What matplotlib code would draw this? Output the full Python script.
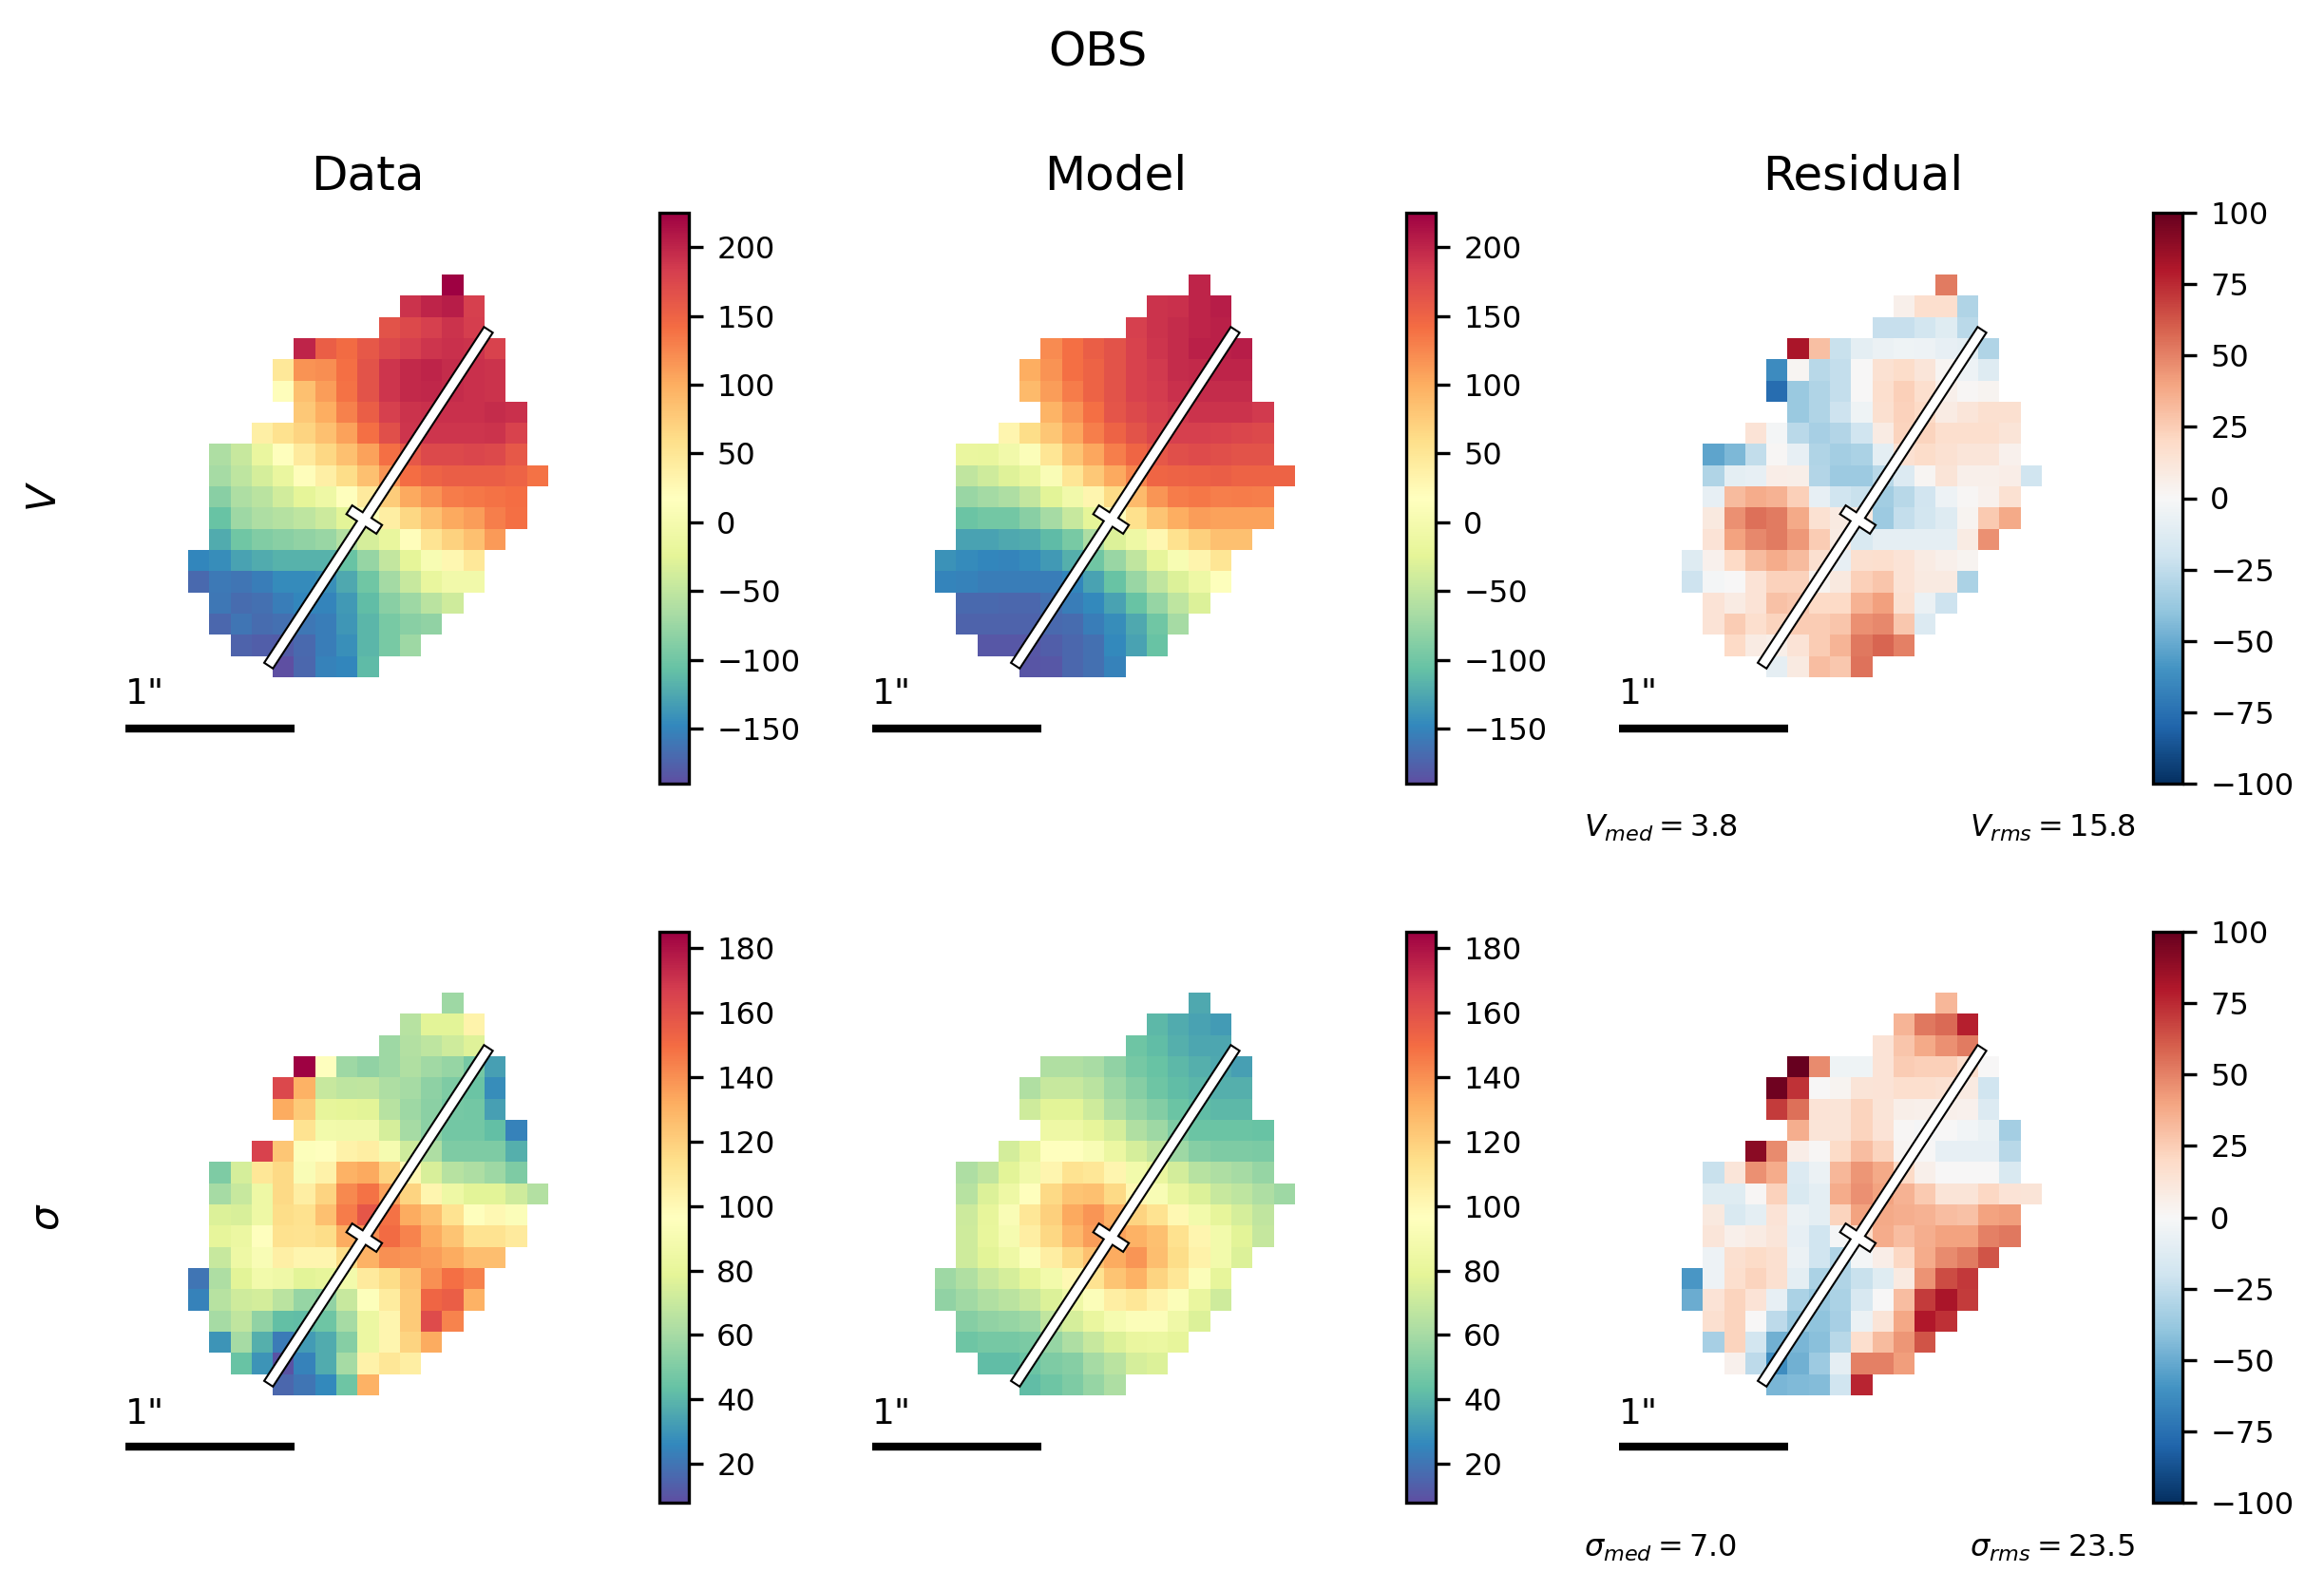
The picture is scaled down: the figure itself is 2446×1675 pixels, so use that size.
import numpy as np
import matplotlib
matplotlib.use("Agg")
import matplotlib.pyplot as plt
from matplotlib.patches import Polygon

### Map values ----------------------------------------------------------------

# first column of each row of the map, the rows hold only the valid spaxels
row_start = [12, 10, 9, 5, 4, 4, 5, 3, 1, 1, 1, 1, 1, 0, 0, 1, 1, 2, 4]

v_data = [
    [226],
    [190, 200, 205, 180],
    [165, 172, 180, 190, 182],
    [200, 155, 143, 160, 172, 180, 188, 192, 190, 178],
    [48, 118, 120, 140, 165, 188, 197, 200, 195, 192, 190],
    [20, 85, 110, 138, 165, 188, 197, 198, 195, 192, 190],
    [78, 100, 128, 155, 180, 190, 192, 192, 192, 195, 192],
    [38, 55, 68, 85, 108, 140, 168, 188, 188, 188, 188, 190, 178],
    [-62, -45, -15, 18, 45, 65, 85, 108, 140, 160, 172, 172, 175, 172, 160],
    [-68, -52, -35, -15, 20, 38, 60, 85, 115, 142, 150, 155, 155, 155, 150, 138],
    [-85, -62, -55, -38, -22, -10, 18, 45, 75, 102, 118, 132, 135, 138, 142],
    [-105, -72, -62, -58, -52, -42, -25, 10, 40, 65, 85, 102, 110, 130, 140],
    [-122, -100, -90, -85, -80, -75, -60, -35, -18, 20, 52, 70, 85, 112],
    [-148, -144, -130, -122, -118, -118, -118, -105, -78, -48, -22, 5, 28, 48],
    [-170, -158, -162, -155, -145, -145, -142, -125, -100, -70, -45, -18, -5, -5],
    [-160, -168, -165, -155, -148, -150, -135, -110, -85, -72, -55, -40],
    [-172, -162, -168, -165, -160, -155, -138, -115, -95, -85, -80],
    [-175, -178, -180, -170, -155, -142, -115, -95, -72],
    [-190, -172, -152, -148, -112],
]

v_model = [
    [200],
    [190, 192, 200, 205],
    [180, 190, 195, 200, 203],
    [122, 140, 155, 165, 178, 188, 195, 203, 203, 205],
    [100, 118, 140, 150, 165, 178, 185, 195, 197, 200, 200],
    [90, 110, 132, 150, 165, 178, 183, 192, 195, 195, 195],
    [95, 118, 140, 162, 172, 180, 185, 190, 190, 190, 185],
    [30, 60, 80, 105, 130, 150, 165, 175, 180, 180, 178, 175, 172],
    [-15, -18, -5, 12, 50, 82, 105, 130, 148, 160, 168, 170, 168, 165, 165],
    [-50, -40, -28, -15, 8, 50, 78, 102, 125, 148, 150, 152, 155, 150, 150, 150],
    [-75, -70, -62, -48, -25, -5, 30, 62, 90, 115, 132, 135, 130, 132, 130],
    [-103, -98, -98, -85, -68, -45, -22, 20, 58, 82, 100, 110, 108, 108, 108],
    [-130, -130, -125, -122, -112, -95, -65, -30, -10, 28, 55, 72, 85, 85],
    [-140, -145, -148, -150, -145, -135, -120, -100, -75, -50, -20, 5, 32, 50],
    [-150, -152, -155, -155, -155, -155, -148, -130, -105, -75, -50, -30, -10, 15],
    [-170, -170, -172, -172, -165, -155, -147, -130, -105, -78, -52, -30],
    [-175, -175, -175, -175, -170, -168, -155, -143, -125, -100, -68],
    [-182, -183, -182, -178, -172, -165, -147, -130, -105],
    [-185, -183, -172, -165, -152],
]

v_resid = [
    [52],
    [5, 17, 17, -30],
    [-23, -23, -18, -12, -27],
    [82, 30, -22, -10, -6, -4, -5, -8, -10, -30],
    [-63, 2, -28, -24, 0, 15, 18, 12, 2, -5, -13],
    [-76, -37, -30, -24, 0, 17, 24, 17, 5, 1, 3],
    [-37, -30, -21, -4, 16, 23, 20, 8, 12, 16, 16],
    [14, -2, -27, -33, -29, -20, 8, 22, 22, 17, 17, 17, 13],
    [-53, -45, -25, 1, -8, -30, -34, -32, -10, 15, 18, 15, 12, 12, 4],
    [-30, -10, -8, 7, 6, -29, -36, -36, -28, -14, 2, 13, 5, 5, 7, -20],
    [-8, 32, 37, 35, 24, -8, -20, -22, -35, -28, -19, -5, 1, 4, 15],
    [10, 46, 55, 52, 38, 15, 9, 10, -36, -24, -18, -13, 3, 26, 38],
    [14, 40, 48, 52, 43, 25, 8, -15, -9, -9, -9, -9, 8, 46],
    [-13, 4, 20, 32, 37, 32, 16, -8, 16, 17, 14, 8, 5, 3],
    [-21, -2, 0, 14, 23, 23, 3, 10, 24, 28, 14, 9, 9, -32],
    [14, 8, 14, 29, 27, 20, 20, 35, 41, 15, -6, -21],
    [14, 25, 17, 22, 25, 25, 28, 46, 48, 27, -14],
    [20, 8, 6, 14, 25, 34, 53, 58, 50],
    [-9, 9, 31, 27, 54],
]

sig_data = [
    [58],
    [65, 78, 78, 103],
    [58, 64, 67, 72, 77],
    [185, 96, 58, 55, 58, 63, 59, 56, 48, 33],
    [163, 130, 70, 67, 68, 62, 60, 54, 50, 45, 28],
    [132, 122, 80, 79, 78, 65, 58, 53, 48, 47, 33],
    [112, 88, 87, 87, 74, 60, 53, 47, 47, 43, 24],
    [165, 123, 95, 96, 104, 106, 90, 72, 62, 50, 50, 50, 38],
    [50, 74, 110, 116, 93, 104, 130, 133, 118, 100, 75, 65, 62, 58, 50],
    [60, 70, 85, 116, 106, 118, 142, 148, 135, 118, 102, 85, 78, 78, 72, 64],
    [76, 75, 85, 115, 113, 125, 145, 158, 148, 132, 125, 112, 97, 100, 94],
    [80, 84, 96, 113, 112, 115, 132, 140, 150, 143, 132, 124, 112, 112, 108],
    [70, 85, 92, 105, 102, 102, 115, 130, 140, 138, 136, 132, 126, 126],
    [20, 62, 78, 88, 86, 78, 80, 88, 108, 115, 124, 140, 149, 144],
    [24, 65, 72, 73, 66, 56, 55, 70, 95, 107, 122, 152, 155, 130],
    [60, 68, 55, 43, 42, 46, 60, 84, 102, 122, 162, 143],
    [30, 60, 38, 22, 32, 37, 52, 84, 102, 118, 132],
    [44, 30, 10, 24, 37, 60, 104, 110, 106],
    [16, 20, 26, 46, 130],
]

sig_model = [
    [36],
    [41, 37, 34, 32],
    [46, 42, 38, 35, 35],
    [63, 63, 61, 55, 48, 44, 41, 38, 36, 33],
    [63, 70, 70, 66, 58, 52, 46, 42, 40, 38, 38],
    [72, 78, 78, 72, 62, 56, 51, 45, 42, 41, 41],
    [85, 85, 80, 74, 63, 58, 50, 45, 45, 45, 44],
    [73, 82, 96, 96, 92, 84, 74, 68, 58, 52, 50, 50, 49],
    [62, 68, 78, 87, 102, 112, 110, 102, 88, 82, 73, 65, 62, 60, 56],
    [65, 76, 85, 97, 116, 124, 125, 116, 100, 92, 82, 76, 70, 67, 62, 58],
    [71, 80, 93, 110, 120, 133, 138, 130, 118, 112, 100, 88, 80, 74, 68],
    [72, 81, 90, 106, 117, 128, 136, 135, 130, 125, 113, 102, 88, 78, 69],
    [72, 78, 85, 94, 106, 116, 125, 132, 138, 126, 115, 104, 88, 76],
    [58, 63, 70, 74, 80, 88, 100, 112, 124, 130, 118, 110, 94, 80],
    [55, 59, 63, 66, 70, 76, 86, 94, 106, 110, 103, 94, 82, 72],
    [52, 55, 56, 58, 68, 74, 82, 90, 94, 94, 86, 76],
    [46, 48, 48, 49, 56, 62, 70, 76, 82, 83, 80],
    [42, 42, 45, 50, 52, 60, 66, 74, 76],
    [42, 46, 50, 56, 62],
]

sig_resid = [
    [33],
    [34, 53, 57, 78],
    [14, 28, 38, 46, 52],
    [100, 47, -4, -4, 14, 25, 24, 24, 17, 0],
    [97, 72, 0, 3, 13, 14, 17, 17, 15, 9, -20],
    [70, 55, 14, 13, 22, 13, 6, 5, 5, 4, -14],
    [36, 13, 13, 22, 14, 1, -1, 0, -3, -7, -34],
    [90, 47, 7, 1, 19, 31, 22, 2, 0, -8, -8, -8, -28],
    [-22, 12, 46, 37, -14, -6, 33, 44, 38, 20, 5, 0, 0, 0, -15],
    [-12, -12, 1, 23, -15, -10, 37, 46, 40, 35, 26, 13, 13, 21, 14, 13],
    [10, -15, -10, 14, -6, -10, 22, 40, 38, 36, 35, 31, 29, 40, 42],
    [12, 5, 8, 12, -8, -20, -1, 18, 37, 31, 36, 40, 40, 50, 53],
    [-5, 16, 19, 16, -6, -20, -30, -2, 7, 21, 37, 47, 52, 63],
    [-58, -5, 17, 22, 16, -10, -32, -30, -22, -12, 9, 45, 65, 71],
    [-50, 14, 22, 14, -8, -32, -38, -32, -16, 0, 31, 70, 82, 70],
    [16, 22, 0, -26, -38, -40, -33, -6, 13, 39, 80, 73],
    [-33, 22, -18, -48, -46, -42, -28, 17, 32, 44, 63],
    [4, -26, -62, -48, -36, -9, 50, 50, 42],
    [-46, -44, -43, -20, 76],
]

col_titles = ["Data", "Model", "Residual"]
v_ticks = [-150, -100, -50, 0, 50, 100, 150, 200]
sig_ticks = [20, 40, 60, 80, 100, 120, 140, 160, 180]
res_ticks = [-100, -75, -50, -25, 0, 25, 50, 75, 100]
v_range = (-190, 225)
sig_range = (8, 185)
res_range = (-100, 100)

### Figure set up --------------------------------------------------------------

W, H = 2446, 1675
DPI = 300
FONT_TICK = 7.7
FONT_TITLE = 12
PIX = 0.125  # arcsec per spaxel
PX_PER_ARCSEC = 22.27 / PIX

fig = plt.figure(figsize=(W / DPI, H / DPI), dpi=DPI)


def px_axes(x0, y0, x1, y1):
    # axes from picture pixels, y counted from the top
    return fig.add_axes([x0 / W, 1 - y1 / H, (x1 - x0) / W, (y1 - y0) / H])


def px_text(x, y, s, **kw):
    fig.text(x / W, 1 - y / H, s, **kw)


def to_grid(rows):
    grid = np.full((19, 17), np.nan)
    for i, vals in enumerate(rows):
        grid[i, row_start[i] : row_start[i] + len(vals)] = vals
    return grid


def box(cx, cy, length, width, angle):
    a = np.radians(angle)
    u = np.array([np.cos(a), np.sin(a)]) * length / 2
    v = np.array([-np.sin(a), np.cos(a)]) * width / 2
    c = np.array([cx, cy])
    return [c - u - v, c + u - v, c + u + v, c - u + v]


def draw_slit(ax):
    slit = box(0.062, -0.126, 2.36, 0.05, 56.8)
    bar = box(-0.022, -0.255, 0.2, 0.05, 56.8 - 90)
    for verts in (slit, bar):
        ax.add_patch(Polygon(verts, fc="none", ec="k", lw=1.0, zorder=3))
    for verts in (slit, bar):
        ax.add_patch(Polygon(verts, fc="w", ec="none", zorder=4))


### Draw panels ----------------------------------------------------------------

rows = [
    dict(maps=[v_data, v_model, v_resid], vr=v_range, ticks=v_ticks,
         top=290, cb_top=224, bar_y=767, one_y=731, text_y=872,
         med=r"$V_{med}=3.8$", rms=r"$V_{rms}=15.8$"),
    dict(maps=[sig_data, sig_model, sig_resid], vr=sig_range, ticks=sig_ticks,
         top=1046, cb_top=981, bar_y=1523, one_y=1489, text_y=1630,
         med=r"$\sigma_{med}=7.0$", rms=r"$\sigma_{rms}=23.5$"),
]
grid_left = [198, 984, 1770]
cb_left = [694, 1480, 2266]

half_x = 8.5 * PIX
half_y = 9.5 * PIX
for r in rows:
    for j, m in enumerate(r["maps"]):
        x_mid = grid_left[j] + 17 * 22.27 / 2
        y_mid = r["top"] + 19 * 22.27 / 2
        y_bar = (y_mid - r["bar_y"]) / PX_PER_ARCSEC
        # axes wide enough for the scale bar below the map
        ax = px_axes(x_mid - 270, y_mid - 290, x_mid + 270, y_mid + 330)
        ax.set_xlim(-270 / PX_PER_ARCSEC, 270 / PX_PER_ARCSEC)
        ax.set_ylim(-330 / PX_PER_ARCSEC, 290 / PX_PER_ARCSEC)
        ax.axis("off")
        resid = j == 2
        vmin, vmax = res_range if resid else r["vr"]
        cmap = "RdBu_r" if resid else "Spectral_r"
        im = ax.imshow(to_grid(m), cmap=cmap, vmin=vmin, vmax=vmax, origin="upper",
                       interpolation="nearest", aspect="auto",
                       extent=[-half_x, half_x, -half_y, half_y])
        draw_slit(ax)

        # scale bar, 1 arcsec long
        bar_x0 = -255 / PX_PER_ARCSEC
        ax.plot([bar_x0, bar_x0 + 1], [y_bar, y_bar], color="k", lw=2,
                solid_capstyle="butt")
        px_text(x_mid - 255, r["one_y"], '1"', fontsize=9, va="center", ha="left")

        cax = px_axes(cb_left[j], r["cb_top"], cb_left[j] + 31, r["cb_top"] + 601)
        cb = fig.colorbar(im, cax=cax)
        cb.set_ticks(res_ticks if resid else r["ticks"])
        cb.ax.tick_params(labelsize=FONT_TICK)

    px_text(1667, r["text_y"], r["med"], fontsize=FONT_TICK, va="center", ha="left")
    px_text(2073, r["text_y"], r["rms"], fontsize=FONT_TICK, va="center", ha="left")

for x, name in zip([387, 1174, 1961], col_titles):
    px_text(x, 185, name, fontsize=FONT_TITLE, ha="center", va="center")

px_text(1155, 55, "OBS", fontsize=FONT_TITLE, ha="center", va="center")
px_text(47, 523, "$V$", fontsize=10, rotation=90, ha="center", va="center")
px_text(50, 1281, r"$\sigma$", fontsize=10, rotation=90, ha="center", va="center")

fig.savefig("out.png", dpi=DPI)
